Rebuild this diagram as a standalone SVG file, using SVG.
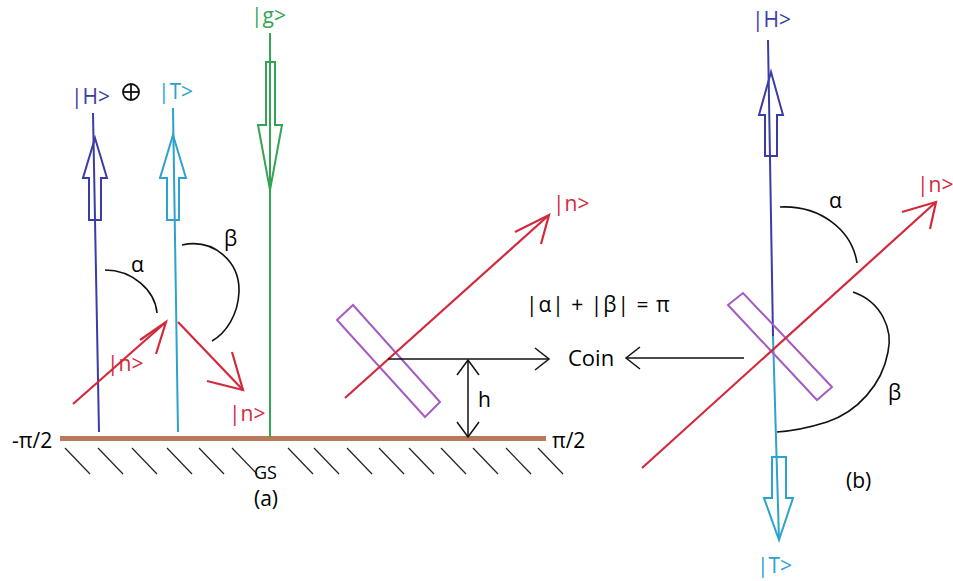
<svg xmlns="http://www.w3.org/2000/svg" width="953" height="581" viewBox="0 0 953 581">
<defs>
<style>
text{font-family:"Open Sans","Liberation Sans",sans-serif;font-size:21px}
.blue{stroke:#3b3ca6;fill:none;stroke-width:2}
.cyan{stroke:#2ba3cc;fill:none;stroke-width:2}
.green{stroke:#33a552;fill:none;stroke-width:2}
.red{stroke:#d22a3c;fill:none;stroke-width:2.2}
.purple{stroke:#a45cc4;fill:none;stroke-width:2}
.blk{stroke:#111;fill:none;stroke-width:1.5}
.arc{stroke:#111;fill:none;stroke-width:1.6}
.hatch{stroke:#222;stroke-width:1.2}
</style>
</defs>
<rect width="953" height="581" fill="#fff"/>

<!-- ground -->
<g id="ground">
<rect x="60" y="436" width="486" height="5" fill="#b77b5c"/>
<g class="hatch">
<line x1="65" y1="448" x2="90" y2="474"/>
<line x1="98" y1="448" x2="123" y2="474"/>
<line x1="132" y1="448" x2="157" y2="474"/>
<line x1="167" y1="448" x2="192" y2="474"/>
<line x1="199" y1="448" x2="224" y2="474"/>
<line x1="232" y1="448" x2="257" y2="474"/>
<line x1="288" y1="448" x2="313" y2="474"/>
<line x1="314" y1="448" x2="339" y2="474"/>
<line x1="347" y1="448" x2="372" y2="474"/>
<line x1="379" y1="448" x2="404" y2="474"/>
<line x1="409" y1="448" x2="434" y2="474"/>
<line x1="441" y1="448" x2="466" y2="474"/>
<line x1="473" y1="448" x2="498" y2="474"/>
<line x1="506" y1="448" x2="531" y2="474"/>
<line x1="538" y1="448" x2="563" y2="474"/>
</g>
<text x="12" y="448">-π/2</text>
<text x="552" y="448">π/2</text>
<text x="254" y="479" style="font-size:18px">GS</text>
<text x="254" y="506">(a)</text>
</g>

<!-- (a) H state -->
<g id="H-a">
<line class="blue" x1="93" y1="113" x2="99" y2="432"/>
<path class="blue" d="M95,138 L107,178 L101,178 L101,220 L89,220 L89,178 L83,178 Z"/>
<text x="71" y="104" fill="#3b3ca6">|H&gt;</text>
</g>
<g id="oplus">
<circle cx="131" cy="92" r="8" fill="none" stroke="#111" stroke-width="1.8"/>
<line x1="123" y1="92" x2="139" y2="92" stroke="#111" stroke-width="1.8"/>
<line x1="131" y1="84" x2="131" y2="100" stroke="#111" stroke-width="1.8"/>
</g>
<g id="T-a">
<line class="cyan" x1="173" y1="108" x2="178" y2="432"/>
<path class="cyan" d="M173,135 L186,178 L179,178 L179,220 L167,220 L167,178 L160,178 Z"/>
<text x="158" y="99" fill="#2ba3cc">|T&gt;</text>
</g>
<g id="g-a">
<line class="green" x1="270" y1="33" x2="270" y2="437"/>
<path class="green" d="M266,62 L275,62 L275,125 L282,125 L270,190 L258,125 L266,125 Z"/>
<text x="251" y="23" fill="#33a552">|g&gt;</text>
</g>

<!-- angles (a) -->
<g id="alpha-a">
<path class="arc" d="M105,270 C132,270 155,290 157,313"/>
<text x="131" y="272">α</text>
</g>
<g id="beta-a">
<path class="arc" stroke-width="2.4" d="M182,245 C214,238 240,262 239,292 C238,315 226,333 212,341"/>
<text x="224" y="246">β</text>
</g>

<!-- red n (a) -->
<g id="n-a">
<line class="red" x1="73" y1="404" x2="166" y2="322"/>
<path class="red" d="M140,340 L166,322 L156,354"/>
<line class="red" x1="178" y1="322" x2="243" y2="390"/>
<path class="red" d="M232,352 L243,390 L207,381"/>
<text x="107" y="371" fill="#d22a3c">|n&gt;</text>
<text x="229" y="421" fill="#d22a3c">|n&gt;</text>
</g>

<!-- coin (a) -->
<g id="coin-a">
<polygon class="purple" points="337,320 353,305 440,402 425,417"/>
<line class="red" x1="345" y1="398" x2="549" y2="215"/>
<path class="red" d="M515,232 L549,215 L541,244"/>
<text x="553" y="211" fill="#d22a3c">|n&gt;</text>
<line class="blk" x1="388" y1="359" x2="549" y2="359"/>
<path class="blk" d="M535,348 L549,359 L535,370"/>
<line class="blk" x1="468" y1="360" x2="468" y2="437"/>
<path class="blk" d="M457,375 L468,360 L479,375"/>
<path class="blk" d="M457,422 L468,437 L479,422"/>
<text x="478" y="407">h</text>
</g>

<g id="labels-mid">
<text x="526" y="312" style="letter-spacing:1px">|α| + |β| = π</text>
<text x="568" y="366" style="font-size:22px">Coin</text>
<line class="blk" x1="744" y1="358" x2="626" y2="358"/>
<path class="blk" d="M640,347 L626,358 L640,369"/>
</g>

<!-- (b) -->
<g id="H-b">
<line class="blue" x1="768" y1="40" x2="773" y2="336"/>
<path class="blue" d="M771,72 L783,115 L777,115 L777,156 L765,156 L765,115 L759,115 Z"/>
<text x="752" y="27" fill="#3b3ca6">|H&gt;</text>
</g>
<g id="T-b">
<line class="cyan" x1="773" y1="336" x2="779" y2="540"/>
<path class="cyan" d="M772,457 L786,457 L786,498 L793,498 L779,540 L764,498 L772,498 Z"/>
<text x="757" y="573" fill="#2ba3cc">|T&gt;</text>
</g>
<g id="coin-b">
<polygon class="purple" points="728,305 743,293 832,387 817,400"/>
<line class="red" x1="642" y1="468" x2="936" y2="202"/>
<path class="red" d="M902,212 L936,202 L930,229"/>
<text x="917" y="192" fill="#d22a3c">|n&gt;</text>
</g>
<g id="alpha-b">
<path class="arc" d="M780,207 C820,205 852,230 857,263"/>
<text x="829" y="208">α</text>
</g>
<g id="beta-b">
<path class="arc" d="M853,292 C882,302 893,330 888,352 C882,385 857,412 827,422 C808,428 792,431 777,432"/>
<text x="888" y="400">β</text>
<text x="846" y="488">(b)</text>
</g>
</svg>
